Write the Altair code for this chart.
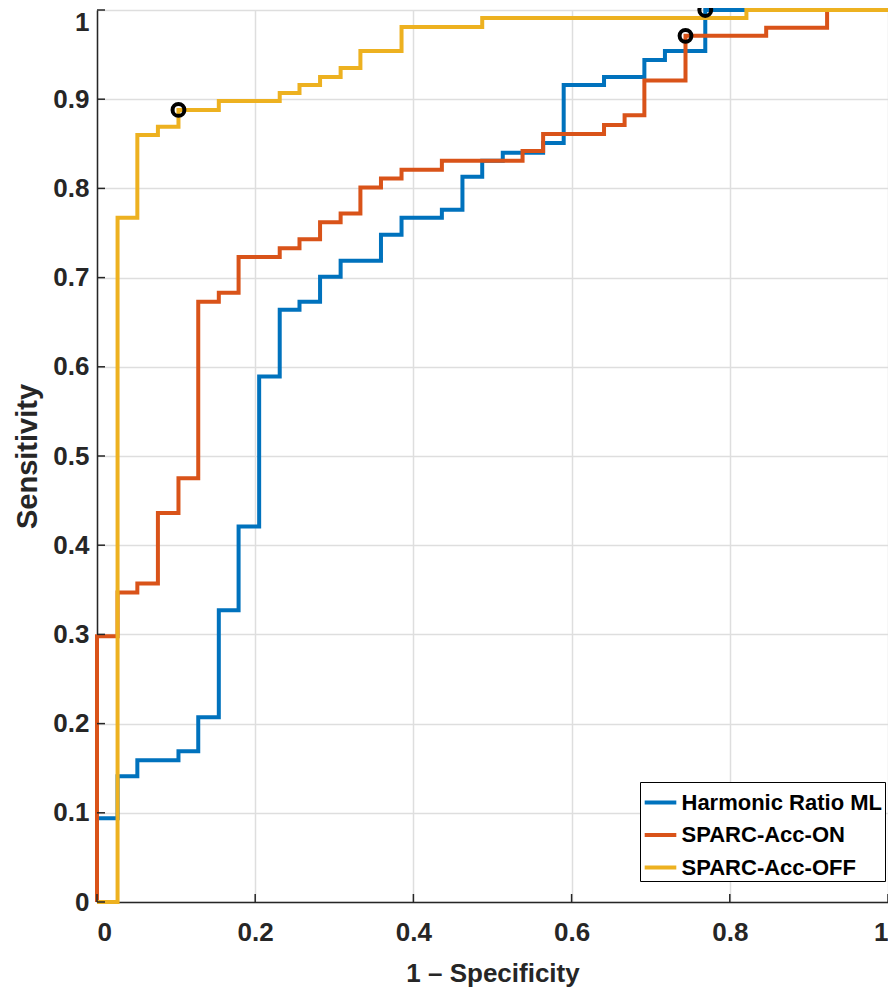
import altair as alt
import pandas as pd

# ---- data ----
series_names = ["Harmonic Ratio ML", "SPARC-Acc-ON", "SPARC-Acc-OFF"]
series_colors = ["#0072BD", "#D95319", "#EDB120"]

hr_x = [0, 0, 0.026, 0.026, 0.051, 0.051, 0.103, 0.103, 0.128, 0.128, 0.154, 0.154,
        0.179, 0.179, 0.205, 0.205, 0.231, 0.231, 0.256, 0.256, 0.282, 0.282, 0.308, 0.308,
        0.359, 0.359, 0.385, 0.385, 0.436, 0.436, 0.462, 0.462, 0.487, 0.487, 0.513, 0.513,
        0.564, 0.564, 0.590, 0.590, 0.641, 0.641, 0.692, 0.692, 0.718, 0.718, 0.769, 0.769, 1.0]
hr_y = [0, 0.094, 0.094, 0.141, 0.141, 0.159, 0.159, 0.169, 0.169, 0.207, 0.207, 0.327,
        0.327, 0.421, 0.421, 0.589, 0.589, 0.664, 0.664, 0.673, 0.673, 0.701, 0.701, 0.719,
        0.719, 0.748, 0.748, 0.767, 0.767, 0.776, 0.776, 0.813, 0.813, 0.831, 0.831, 0.840,
        0.840, 0.851, 0.851, 0.916, 0.916, 0.925, 0.925, 0.944, 0.944, 0.954, 0.954, 1.0, 1.0]

on_x = [0, 0, 0.026, 0.026, 0.051, 0.051, 0.077, 0.077, 0.103, 0.103, 0.128, 0.128,
        0.154, 0.154, 0.179, 0.179, 0.231, 0.231, 0.256, 0.256, 0.282, 0.282, 0.308, 0.308,
        0.333, 0.333, 0.359, 0.359, 0.385, 0.385, 0.436, 0.436, 0.538, 0.538, 0.564, 0.564,
        0.641, 0.641, 0.667, 0.667, 0.692, 0.692, 0.744, 0.744, 0.846, 0.846, 0.923, 0.923, 1.0]
on_y = [0, 0.298, 0.298, 0.347, 0.347, 0.357, 0.357, 0.436, 0.436, 0.475, 0.475, 0.673,
        0.673, 0.683, 0.683, 0.723, 0.723, 0.733, 0.733, 0.743, 0.743, 0.762, 0.762, 0.772,
        0.772, 0.801, 0.801, 0.811, 0.811, 0.821, 0.821, 0.831, 0.831, 0.842, 0.842, 0.861,
        0.861, 0.871, 0.871, 0.882, 0.882, 0.921, 0.921, 0.971, 0.971, 0.980, 0.980, 1.0, 1.0]

off_x = [0, 0.026, 0.026, 0.051, 0.051, 0.077, 0.077, 0.103, 0.103, 0.154, 0.154, 0.231,
         0.231, 0.256, 0.256, 0.282, 0.282, 0.308, 0.308, 0.333, 0.333, 0.385, 0.385, 0.487,
         0.487, 0.821, 0.821, 1.0]
off_y = [0, 0, 0.767, 0.767, 0.860, 0.860, 0.869, 0.869, 0.888, 0.888, 0.898, 0.898,
         0.907, 0.907, 0.916, 0.916, 0.925, 0.925, 0.935, 0.935, 0.954, 0.954, 0.981, 0.981,
         0.991, 0.991, 1.0, 1.0]

# operating points (black circles)
op_x = [0.103, 0.744, 0.769]
op_y = [0.888, 0.971, 1.0]

x_ticks = [0, 0.2, 0.4, 0.6, 0.8, 1]
y_ticks = [0, 0.1, 0.2, 0.3, 0.4, 0.5, 0.6, 0.7, 0.8, 0.9, 1]

# ---- build tables ----
rows = []
for name, xs, ys in zip(series_names, [hr_x, on_x, off_x], [hr_y, on_y, off_y]):
    for i, (a, b) in enumerate(zip(xs, ys)):
        rows.append({"series": name, "x": a, "y": b, "i": i})
df = pd.DataFrame(rows)
ops = pd.DataFrame({"x": op_x, "y": op_y})
xt = pd.DataFrame({"x": x_ticks})
yt = pd.DataFrame({"y": y_ticks})

W, H = 791, 892
FONT = "Liberation Sans"

xscale = alt.Scale(domain=[0, 1], nice=False)
yscale = alt.Scale(domain=[0, 1], nice=False)
X = alt.X("x:Q", scale=xscale, title="1 – Specificity",
          axis=alt.Axis(values=x_ticks, format="~g", labelPadding=17, titlePadding=15,
                        titleFontSize=26))
Y = alt.Y("y:Q", scale=yscale, title="Sensitivity",
          axis=alt.Axis(values=y_ticks, format="~g", labelPadding=8, titlePadding=10,
                        titleFontSize=29,
                        labelOffset={"condition": {"test": "datum.value === 1", "value": 12},
                                     "value": 0}))

color = alt.Color("series:N",
                  scale=alt.Scale(domain=series_names, range=series_colors),
                  legend=alt.Legend(title=None, orient="none", legendX=543, legendY=772,
                                    symbolType="stroke", symbolSize=1000, symbolStrokeWidth=4,
                                    labelFontSize=22, labelFont=FONT, labelFontWeight="bold",
                                    labelColor="black", labelOffset=3, rowPadding=3.5,
                                    strokeColor="black", fillColor="white", padding=2.5,
                                    labelLimit=400))

layers = []
for name in series_names:
    layers.append(
        alt.Chart(df).transform_filter(alt.datum.series == name)
        .mark_line(strokeWidth=4, strokeCap="butt", strokeJoin="miter")
        .encode(x=X, y=Y, color=color, order=alt.Order("i:Q"))
    )

circles = alt.Chart(ops).mark_point(shape="circle", filled=False, color="black",
                                    size=140, strokeWidth=4, opacity=1).encode(x=X, y=Y)

xticks_l = alt.Chart(xt).mark_rule(color="#262626", strokeWidth=1.5).encode(
    x=X, y=alt.value(H), y2=alt.value(H - 8))
yticks_l = alt.Chart(yt).mark_rule(color="#262626", strokeWidth=1.5).encode(
    y=Y, x=alt.value(0), x2=alt.value(8))

chart = alt.layer(*layers, circles, xticks_l, yticks_l).properties(
    width=W, height=H,
    autosize=alt.AutoSizeParams(type="none"),
    padding={"left": 89, "top": 2, "right": 0, "bottom": 86},
).configure_view(stroke=None).configure_axis(
    grid=True, gridColor="#dedede", gridWidth=1.5,
    domainColor="#262626", domainWidth=1.5,
    ticks=False,
    labelFont=FONT, labelFontSize=26, labelFontWeight="bold", labelColor="#262626",
    titleFont=FONT, titleFontWeight="bold", titleColor="#262626",
)

chart.save("out.html", embed_options={"renderer": "svg", "actions": False})
